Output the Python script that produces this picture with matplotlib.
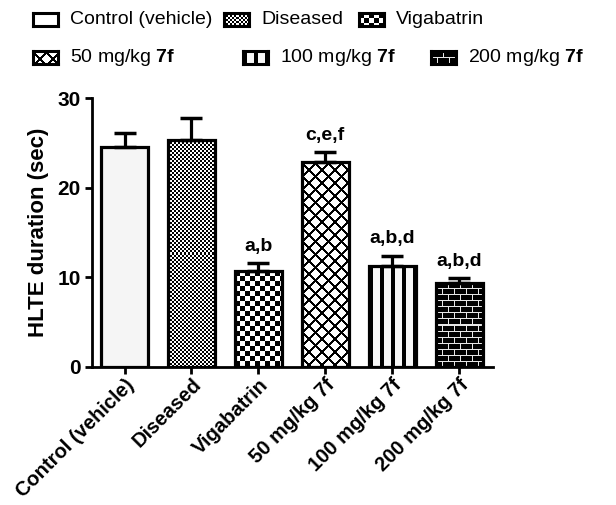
import numpy as np
import matplotlib
matplotlib.use("Agg")
import matplotlib.pyplot as plt

plt.rcParams["font.family"] = ["Liberation Sans", "DejaVu Sans"]
plt.rcParams["mathtext.fontset"] = "custom"
plt.rcParams["mathtext.rm"] = "Liberation Sans"
plt.rcParams["mathtext.bf"] = "Liberation Sans:bold"

# data
groups = ["Control (vehicle)", "Diseased", "Vigabatrin",
          "50 mg/kg 7f", "100 mg/kg 7f", "200 mg/kg 7f"]
legend_labels = ["Control (vehicle)", "Diseased", "Vigabatrin",
                 "50 mg/kg $\\mathbf{7f}$", "100 mg/kg $\\mathbf{7f}$",
                 "200 mg/kg $\\mathbf{7f}$"]
means = [24.6, 25.3, 10.7, 22.9, 11.25, 9.4]
sem = [1.5, 2.5, 0.9, 1.1, 1.15, 0.5]
signif = ["", "", "a,b", "c,e,f", "a,b,d", "a,b,d"]


# fill textures (1 = white, 0 = black), sized in pixels
def tex_plain(h, w):
    return np.full((h, w), 0.96)


def tex_checker(cell):
    def f(h, w):
        i, j = np.indices((h, w))
        return ((i // cell + j // cell) % 2).astype(float)
    return f


def tex_cross(h, w, period=13, lw=3):
    i, j = np.indices((h, w))
    line = ((i + j) % period < lw) | ((i - j) % period < lw)
    return np.where(line, 0.0, 1.0)


def tex_stripes(h, w, period=11, lw=4):
    j = np.indices((h, w))[1]
    return np.where(j % period < lw, 0.0, 0.97)


def tex_brick(h, w, bh=6, bw=12):
    i, j = np.indices((h, w))
    row = i // bh
    mortar = (i % bh == 0) | ((j + (row % 2) * (bw // 2)) % bw == 0)
    return np.where(mortar, 0.9, 0.0)


textures = [tex_plain, tex_checker(2), tex_checker(5), tex_cross,
            tex_stripes, tex_brick]

W, H = 616, 505
fig = plt.figure(figsize=(W / 100, H / 100), dpi=100)
ax = fig.add_axes([91.7 / W, 1 - 366.7 / H, 401 / W, 268.4 / H])

x = np.arange(len(groups))
ax.set_xlim(-0.49, 5.5)
ax.set_ylim(0, 30)

bars = ax.bar(x, means, width=0.7, facecolor="none", edgecolor="black",
              linewidth=2.3, zorder=3)

for bar, tex in zip(bars, textures):
    bb = bar.get_window_extent()
    pw, ph = max(int(round(bb.width)), 1), max(int(round(bb.height)), 1)
    x0 = bar.get_x()
    ax.imshow(tex(ph, pw), cmap="gray", vmin=0, vmax=1, interpolation="nearest",
              extent=(x0, x0 + bar.get_width(), 0, bar.get_height()),
              aspect="auto", clip_path=bar, zorder=2)

ax.set_xlim(-0.49, 5.5)
ax.set_ylim(0, 30)

ax.errorbar(x, means, yerr=[np.zeros(len(sem)), sem], fmt="none", ecolor="black",
            elinewidth=2.3, capsize=8, capthick=2.5, zorder=4)

for xi, m, s, lab in zip(x, means, sem, signif):
    if lab:
        ax.annotate(lab, xy=(xi, m + s), xytext=(0, 6), textcoords="offset points",
                    ha="center", va="bottom", fontsize=14, fontweight="bold")

ax.spines["top"].set_visible(False)
ax.spines["right"].set_visible(False)
ax.spines["left"].set_linewidth(2)
ax.spines["bottom"].set_linewidth(2)
ax.set_yticks([0, 10, 20, 30])
ax.set_xticks(x)
ax.set_xticklabels(groups, rotation=45, ha="right", rotation_mode="anchor",
                   fontsize=14.5, fontweight="bold")
for t in ax.get_yticklabels():
    t.set_fontsize(15)
    t.set_fontweight("bold")
ax.tick_params(axis="both", direction="out", width=2, length=5, pad=3)
ax.tick_params(axis="x", pad=1)
ax.set_ylabel("HLTE duration (sec)", fontsize=16, fontweight="bold", labelpad=6)

# legend, laid out as in the figure (two rows of boxes)
icon_pos = [(33, 13), (224, 13), (359, 13), (33, 51), (243, 51), (431, 51)]
icon_w, icon_h = 25, 13
for (px, py), tex, lab in zip(icon_pos, textures, legend_labels):
    iax = fig.add_axes([px / W, 1 - (py + icon_h) / H, icon_w / W, icon_h / H])
    arr = np.full((icon_h, icon_w), 1.0) if tex is tex_plain else tex(icon_h, icon_w)
    iax.imshow(arr, cmap="gray", vmin=0, vmax=1, interpolation="nearest", aspect="auto")
    iax.set_xticks([])
    iax.set_yticks([])
    for sp in iax.spines.values():
        sp.set_linewidth(2.2)
    fig.text((px + icon_w + 12) / W, 1 - (py + icon_h / 2) / H, lab,
             fontsize=14, va="center", ha="left")

fig.savefig("out.png", dpi=100)
